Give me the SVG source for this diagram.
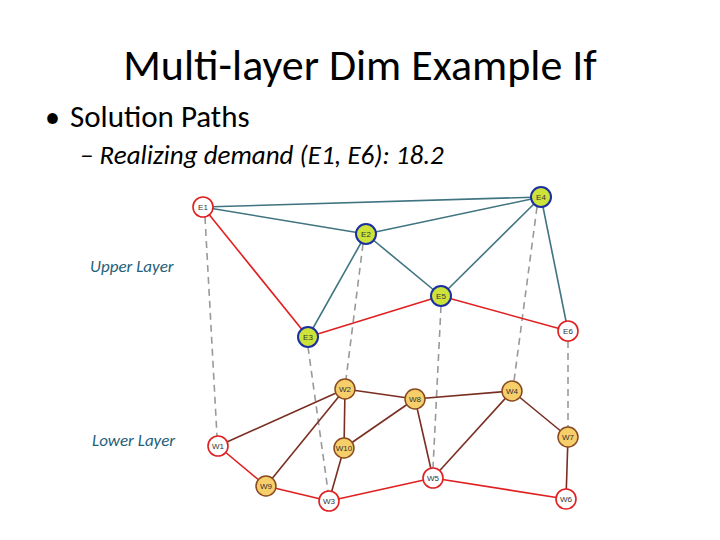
<svg xmlns="http://www.w3.org/2000/svg" width="720" height="540" viewBox="0 0 720 540">
<style>
.t{font-family:Calibri,Carlito,"Liberation Sans",sans-serif;fill:#000}
.tl{stroke:#3f7480;stroke-width:1.6}
.rd{stroke:#e02020;stroke-width:1.6}
.br{stroke:#7a2e22;stroke-width:1.6}
.ds{stroke:#999;stroke-width:1.6;stroke-dasharray:7,5}
.ey{fill:#cde33a;stroke:#1a2fa0;stroke-width:2}
.ew{fill:#fff;stroke:#e02020;stroke-width:1.6}
.wy{fill:#f6cf6a;stroke:#8a4a20;stroke-width:1.5}
.nl{font-family:"Liberation Sans",sans-serif;font-size:8px;text-anchor:middle;fill:#333}
.ll{font-family:Calibri,Carlito,"Liberation Sans",sans-serif;font-size:17px;font-style:italic;fill:#1f5f7a}
</style>
<text class="t" x="360" y="80" font-size="44" text-anchor="middle">Multi-layer Dim Example If</text>
<text class="t" x="45" y="127" font-size="30">•</text>
<text class="t" x="70" y="127" font-size="31">Solution Paths</text>
<text class="t" x="80" y="164" font-size="27" font-style="italic">– Realizing demand (E1, E6): 18.2</text>
<text class="ll" x="90" y="272">Upper Layer</text>
<text class="ll" x="92" y="446">Lower Layer</text>
<g id="connectors" fill="none">
<line class="ds" x1="205" y1="217" x2="217" y2="436"/>
<line class="ds" x1="363" y1="244" x2="346" y2="379"/>
<line class="ds" x1="308" y1="347" x2="328" y2="491"/>
<line class="ds" x1="441" y1="306" x2="433" y2="468"/>
<line class="ds" x1="537" y1="207" x2="514" y2="381"/>
<line class="ds" x1="568" y1="341" x2="568" y2="427"/>
<line class="tl" x1="203" y1="207" x2="541" y2="197"/>
<line class="tl" x1="203" y1="207" x2="366" y2="234"/>
<line class="tl" x1="366" y1="234" x2="541" y2="197"/>
<line class="tl" x1="366" y1="234" x2="308" y2="337"/>
<line class="tl" x1="366" y1="234" x2="441" y2="296"/>
<line class="tl" x1="441" y1="296" x2="541" y2="197"/>
<line class="tl" x1="541" y1="197" x2="568" y2="331"/>
<line class="rd" x1="203" y1="207" x2="308" y2="337"/>
<line class="rd" x1="308" y1="337" x2="441" y2="296"/>
<line class="rd" x1="441" y1="296" x2="568" y2="331"/>
<line class="br" x1="218" y1="446" x2="345" y2="389"/>
<line class="br" x1="266" y1="486" x2="345" y2="389"/>
<line class="br" x1="345" y1="389" x2="344" y2="448"/>
<line class="br" x1="345" y1="389" x2="415" y2="399"/>
<line class="br" x1="415" y1="399" x2="344" y2="448"/>
<line class="br" x1="415" y1="399" x2="433" y2="478"/>
<line class="br" x1="415" y1="399" x2="512" y2="391"/>
<line class="br" x1="512" y1="391" x2="433" y2="478"/>
<line class="br" x1="512" y1="391" x2="568" y2="437"/>
<line class="br" x1="568" y1="437" x2="566" y2="499"/>
<line class="br" x1="344" y1="448" x2="329" y2="501"/>
<line class="rd" x1="218" y1="446" x2="266" y2="486"/>
<line class="rd" x1="266" y1="486" x2="329" y2="501"/>
<line class="rd" x1="329" y1="501" x2="433" y2="478"/>
<line class="rd" x1="433" y1="478" x2="566" y2="499"/>
</g>
<g id="E1"><circle class="ew" cx="203" cy="207" r="10"/><text class="nl" x="203" y="210">E1</text></g>
<g id="E4"><circle class="ey" cx="541" cy="197" r="10"/><text class="nl" x="541" y="200">E4</text></g>
<g id="E2"><circle class="ey" cx="366" cy="234" r="10"/><text class="nl" x="366" y="237">E2</text></g>
<g id="E5"><circle class="ey" cx="441" cy="296" r="10"/><text class="nl" x="441" y="299">E5</text></g>
<g id="E6"><circle class="ew" cx="568" cy="331" r="10"/><text class="nl" x="568" y="334">E6</text></g>
<g id="E3"><circle class="ey" cx="308" cy="337" r="10"/><text class="nl" x="308" y="340">E3</text></g>
<g id="W2"><circle class="wy" cx="345" cy="389" r="10"/><text class="nl" x="345" y="392">W2</text></g>
<g id="W8"><circle class="wy" cx="415" cy="399" r="10"/><text class="nl" x="415" y="402">W8</text></g>
<g id="W4"><circle class="wy" cx="512" cy="391" r="10"/><text class="nl" x="512" y="394">W4</text></g>
<g id="W1"><circle class="ew" cx="218" cy="446" r="10"/><text class="nl" x="218" y="449">W1</text></g>
<g id="W10"><circle class="wy" cx="344" cy="448" r="10"/><text class="nl" x="344" y="451">W10</text></g>
<g id="W7"><circle class="wy" cx="568" cy="437" r="10"/><text class="nl" x="568" y="440">W7</text></g>
<g id="W9"><circle class="wy" cx="266" cy="486" r="10"/><text class="nl" x="266" y="489">W9</text></g>
<g id="W3"><circle class="ew" cx="329" cy="501" r="10"/><text class="nl" x="329" y="504">W3</text></g>
<g id="W5"><circle class="ew" cx="433" cy="478" r="10"/><text class="nl" x="433" y="481">W5</text></g>
<g id="W6"><circle class="ew" cx="566" cy="499" r="10"/><text class="nl" x="566" y="502">W6</text></g>
</svg>
